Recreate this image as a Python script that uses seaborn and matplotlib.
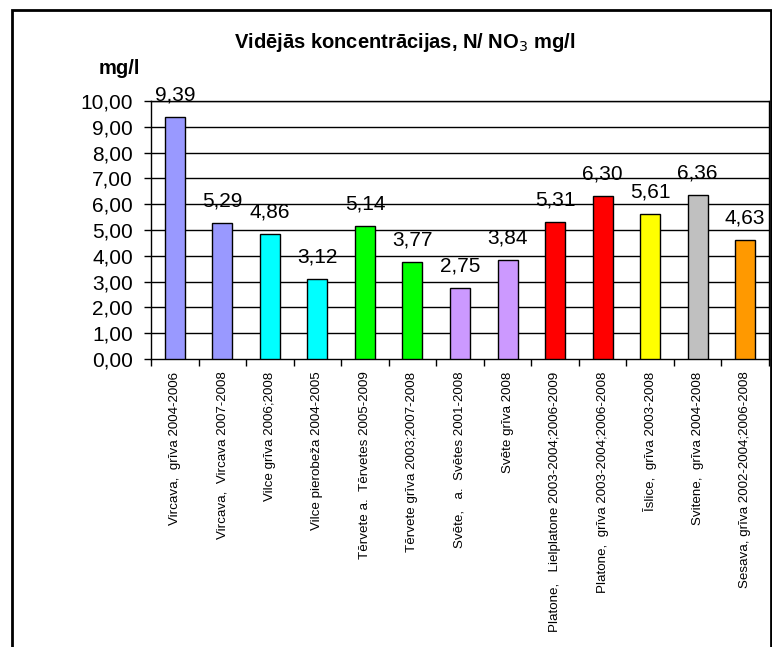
import matplotlib
matplotlib.use("Agg")
import matplotlib.pyplot as plt
import seaborn as sns
import pandas as pd
import numpy as np
from matplotlib.patches import Rectangle

categories = [
    "Vircava,  grīva 2004-2006",
    "Vircava,  Vircava 2007-2008",
    "Vilce grīva 2006;2008",
    "Vilce pierobeža 2004-2005",
    "Tērvete a.  Tērvetes 2005-2009",
    "Tērvete grīva 2003;2007-2008",
    "Svēte,   a.  Svētes 2001-2008",
    "Svēte grīva 2008",
    "Platone,   Lielplatone 2003-2004;2006-2009",
    "Platone,  grīva 2003-2004;2006-2008",
    "Īslice,  grīva 2003-2008",
    "Svitene,  grīva 2004-2008",
    "Sesava, grīva 2002-2004;2006-2008",
]
values = [9.39, 5.29, 4.86, 3.12, 5.14, 3.77, 2.75, 3.84, 5.31, 6.30, 5.61, 6.36, 4.63]
colors = ["#9999FF", "#9999FF", "#00FFFF", "#00FFFF", "#00FF00", "#00FF00",
          "#CC99FF", "#CC99FF", "#FF0000", "#FF0000", "#FFFF00", "#C0C0C0", "#FF9900"]
yticks = [0, 1, 2, 3, 4, 5, 6, 7, 8, 9, 10]

sns.set_theme(style="white")
plt.rcParams["font.family"] = ["Liberation Sans", "DejaVu Sans"]
plt.rcParams["text.color"] = "black"
plt.rcParams["xtick.color"] = "black"
plt.rcParams["ytick.color"] = "black"
plt.rcParams["xtick.labelcolor"] = "black"
plt.rcParams["ytick.labelcolor"] = "black"

df = pd.DataFrame({"cat": categories, "val": values})

fig = plt.figure(figsize=(7.72, 6.47), dpi=100)
ax = fig.add_axes([151 / 772, 1 - 359 / 647, (769 - 151) / 772, (359 - 101) / 647])

sns.barplot(data=df, x="cat", y="val", hue="cat", palette=colors, legend=False,
            saturation=1, width=0.42, edgecolor="black", linewidth=1, ax=ax, zorder=3)

ax.set_xlim(-0.5, len(categories) - 0.5)
ax.set_ylim(0, 10)
ax.set_yticks(yticks)
ax.set_yticklabels([f"{v:.2f}".replace(".", ",") for v in yticks], fontsize=15)
for y in yticks[1:]:
    ax.axhline(y, color="black", linewidth=1, zorder=1)

ax.set_xticks(np.arange(-0.5, len(categories), 1.0))
ax.set_xticklabels([])
ax.set_xticks(np.arange(len(categories)), minor=True)
ax.set_xticklabels(categories, minor=True, rotation=90, ha="center", va="top", fontsize=9.6)
ax.tick_params(axis="x", which="major", direction="out", length=5, width=1, color="black", bottom=True)
ax.tick_params(axis="x", which="minor", length=0, pad=9)
ax.tick_params(axis="y", direction="out", length=5, width=1, color="black", left=True, pad=8)

for s in ax.spines.values():
    s.set_visible(True)
    s.set_color("black")
    s.set_linewidth(1)

ax.set_xlabel("")
ax.set_ylabel("")

for i, v in enumerate(values):
    ax.annotate(f"{v:.2f}".replace(".", ","), (i, v), xytext=(0, 9), textcoords="offset points",
                ha="center", va="bottom", fontsize=15)

fig.text(405 / 772, 1 - 43 / 647, "Vidējās koncentrācijas, N/ NO$_3$ mg/l",
         ha="center", va="center", fontsize=14.5, fontweight="bold")
fig.text(119 / 772, 1 - 68 / 647, "mg/l", ha="center", va="center", fontsize=14.5, fontweight="bold")

border = Rectangle((12 / 772, -0.05), (771 - 12) / 772, 1.05 - 10 / 647, transform=fig.transFigure,
                   fill=False, edgecolor="black", linewidth=2, clip_on=False)
fig.patches.append(border)

fig.savefig("out.png", dpi=100)
